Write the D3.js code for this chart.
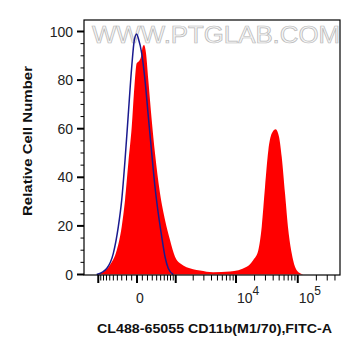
<!DOCTYPE html>
<html>
<head>
<meta charset="utf-8">
<script src="https://cdn.jsdelivr.net/npm/d3@7"></script>
<style>
  html, body { margin: 0; padding: 0; background: #fff; }
  svg { display: block; }
  text { font-family: "Liberation Sans", Arial, sans-serif; }
</style>
</head>
<body>
<svg id="chart" width="361" height="356"></svg>
<script>
// ---------- data ----------
// fluorescence intensity (FITC-A) and relative cell number (% of max)
const redIntensity = [-1000, -930, -592, -415, -301, -231, -165, -99, -50, -6, 43, 75, 107, 132, 171, 217, 288, 361, 483, 622, 782, 970, 1191, 1985, 2592, 4233, 8000, 14900, 19070, 22970, 26100, 29500, 33370, 37870, 43970, 49700, 54960, 62170, 70300, 79780, 90220, 108700, 122900];
const redCount     = [0, 0.3, 4, 10, 19.7, 30.6, 45.8, 60.8, 77, 86.9, 88, 89.6, 93.7, 94.4, 91, 80, 63.6, 49.9, 33.4, 22.4, 14.2, 7.3, 4.6, 2.2, 1.6, 0.9, 1.2, 3.2, 6, 10, 19.7, 36, 51, 58, 59.8, 56.7, 48.5, 33.4, 18.3, 8.7, 3.2, 0.5, 0];

const blueIntensity = [-1067, -693, -501, -377, -301, -231, -165, -99, -50, -6, 24, 88, 151, 217, 288, 361, 440, 528, 622, 725, 903];
const blueCount     = [0, 2.5, 8.7, 19.7, 30.6, 47, 66, 85.5, 96.5, 99, 97.2, 91, 80, 65, 50, 36, 25, 15.6, 7.3, 2.5, 0];

const xDomain = [-1768, 482600];
const xMajorTicks = [-1000, 0, 1000, 10000, 100000];
const xMinorTicks = [-900, -800, -700, -600, -500, -400, -300, -200, -100, 100, 200, 300, 400, 500, 600, 700, 800, 900,
  2000, 3000, 4000, 5000, 6000, 7000, 8000, 9000,
  20000, 30000, 40000, 50000, 60000, 70000, 80000, 90000,
  200000, 300000, 400000];
const xTickLabels = [{v: 0, base: "0", sup: ""}, {v: 10000, base: "10", sup: "4"}, {v: 100000, base: "10", sup: "5"}];

const yMajorTicks = [0, 20, 40, 60, 80, 100];
const yMinorTicks = [5, 10, 15, 25, 30, 35, 45, 50, 55, 65, 70, 75, 85, 90, 95];

const xTitle = "CL488-65055 CD11b(M1/70),FITC-A";
const yTitle = "Relative Cell Number";
const watermark = "WWW.PTGLAB.COM";

// ---------- layout ----------
const mLeft = 84, mRight = 340, mTop = 20, mBottom = 275;
const svg = d3.select("#chart");

// logicle-like (arcsinh) x scale built on a d3 linear scale
const W = 500;
const T = v => Math.asinh(v / W);
const xLin = d3.scaleLinear().domain(xDomain.map(T)).range([mLeft, mRight]);
const x = v => xLin(T(v));
const y = d3.scaleLinear().domain([0, 100]).range([274.5, 31.5]);

const red = redIntensity.map((v, i) => [v, redCount[i]]);
const blue = blueIntensity.map((v, i) => [v, blueCount[i]]);

svg.append("clipPath").attr("id", "plotclip")
  .append("rect").attr("x", mLeft).attr("y", mTop).attr("width", mRight - mLeft).attr("height", mBottom - mTop);

// watermark
svg.append("text")
  .attr("x", 92).attr("y", 43)
  .attr("textLength", 248).attr("lengthAdjust", "spacingAndGlyphs")
  .attr("font-size", 23)
  .attr("fill", "#f6f6f6").attr("stroke", "#b8b8b8").attr("stroke-width", 0.7)
  .text(watermark);

const g = svg.append("g").attr("clip-path", "url(#plotclip)");

g.append("path")
  .datum(red)
  .attr("fill", "#ff0000")
  .attr("d", d3.area().x(d => x(d[0])).y0(y(0)).y1(d => y(d[1])).curve(d3.curveMonotoneX));

g.append("path")
  .datum(blue)
  .attr("fill", "none")
  .attr("stroke", "#1a1a8f")
  .attr("stroke-width", 1.5)
  .attr("d", d3.line().x(d => x(d[0])).y(d => y(d[1])).curve(d3.curveMonotoneX));

// frame
svg.append("rect")
  .attr("x", mLeft).attr("y", mTop).attr("width", mRight - mLeft).attr("height", mBottom - mTop)
  .attr("fill", "none").attr("stroke", "#000").attr("stroke-width", 1.2);

// y ticks
svg.selectAll(".ymaj").data(yMajorTicks).enter().append("line")
  .attr("x1", 77).attr("x2", mLeft).attr("y1", d => y(d)).attr("y2", d => y(d))
  .attr("stroke", "#000").attr("stroke-width", 2);
svg.selectAll(".ymin").data(yMinorTicks).enter().append("line")
  .attr("x1", 80.5).attr("x2", mLeft).attr("y1", d => y(d)).attr("y2", d => y(d))
  .attr("stroke", "#000").attr("stroke-width", 1);
svg.selectAll(".ylab").data(yMajorTicks).enter().append("text")
  .attr("x", 73).attr("y", d => y(d) + 5)
  .attr("text-anchor", "end").attr("font-size", 14).attr("fill", "#222")
  .text(d => d);

// x ticks
svg.selectAll(".xmaj").data(xMajorTicks).enter().append("line")
  .attr("x1", d => x(d)).attr("x2", d => x(d)).attr("y1", mBottom).attr("y2", 283)
  .attr("stroke", "#000").attr("stroke-width", 2);
svg.selectAll(".xmin").data(xMinorTicks).enter().append("line")
  .attr("x1", d => x(d)).attr("x2", d => x(d)).attr("y1", mBottom).attr("y2", 280.5)
  .attr("stroke", "#000").attr("stroke-width", 1);

const xl = svg.selectAll(".xlab").data(xTickLabels).enter().append("text")
  .attr("x", d => d.sup ? x(d.v) + 1 : x(d.v) + 3)
  .attr("y", 303)
  .attr("text-anchor", d => d.sup ? "start" : "middle")
  .attr("font-size", 14).attr("fill", "#222");
xl.append("tspan").text(d => d.base);
xl.append("tspan").attr("dy", -8).attr("font-size", 12).text(d => d.sup);

// titles
svg.append("text")
  .attr("x", 97).attr("y", 333)
  .attr("textLength", 235).attr("lengthAdjust", "spacingAndGlyphs")
  .attr("font-size", 13.5).attr("font-weight", "bold").attr("fill", "#111")
  .text(xTitle);

svg.append("text")
  .attr("transform", "translate(32,141) rotate(-90)")
  .attr("text-anchor", "middle")
  .attr("textLength", 150).attr("lengthAdjust", "spacingAndGlyphs")
  .attr("font-size", 13.5).attr("font-weight", "bold").attr("fill", "#111")
  .text(yTitle);
</script>
</body>
</html>
